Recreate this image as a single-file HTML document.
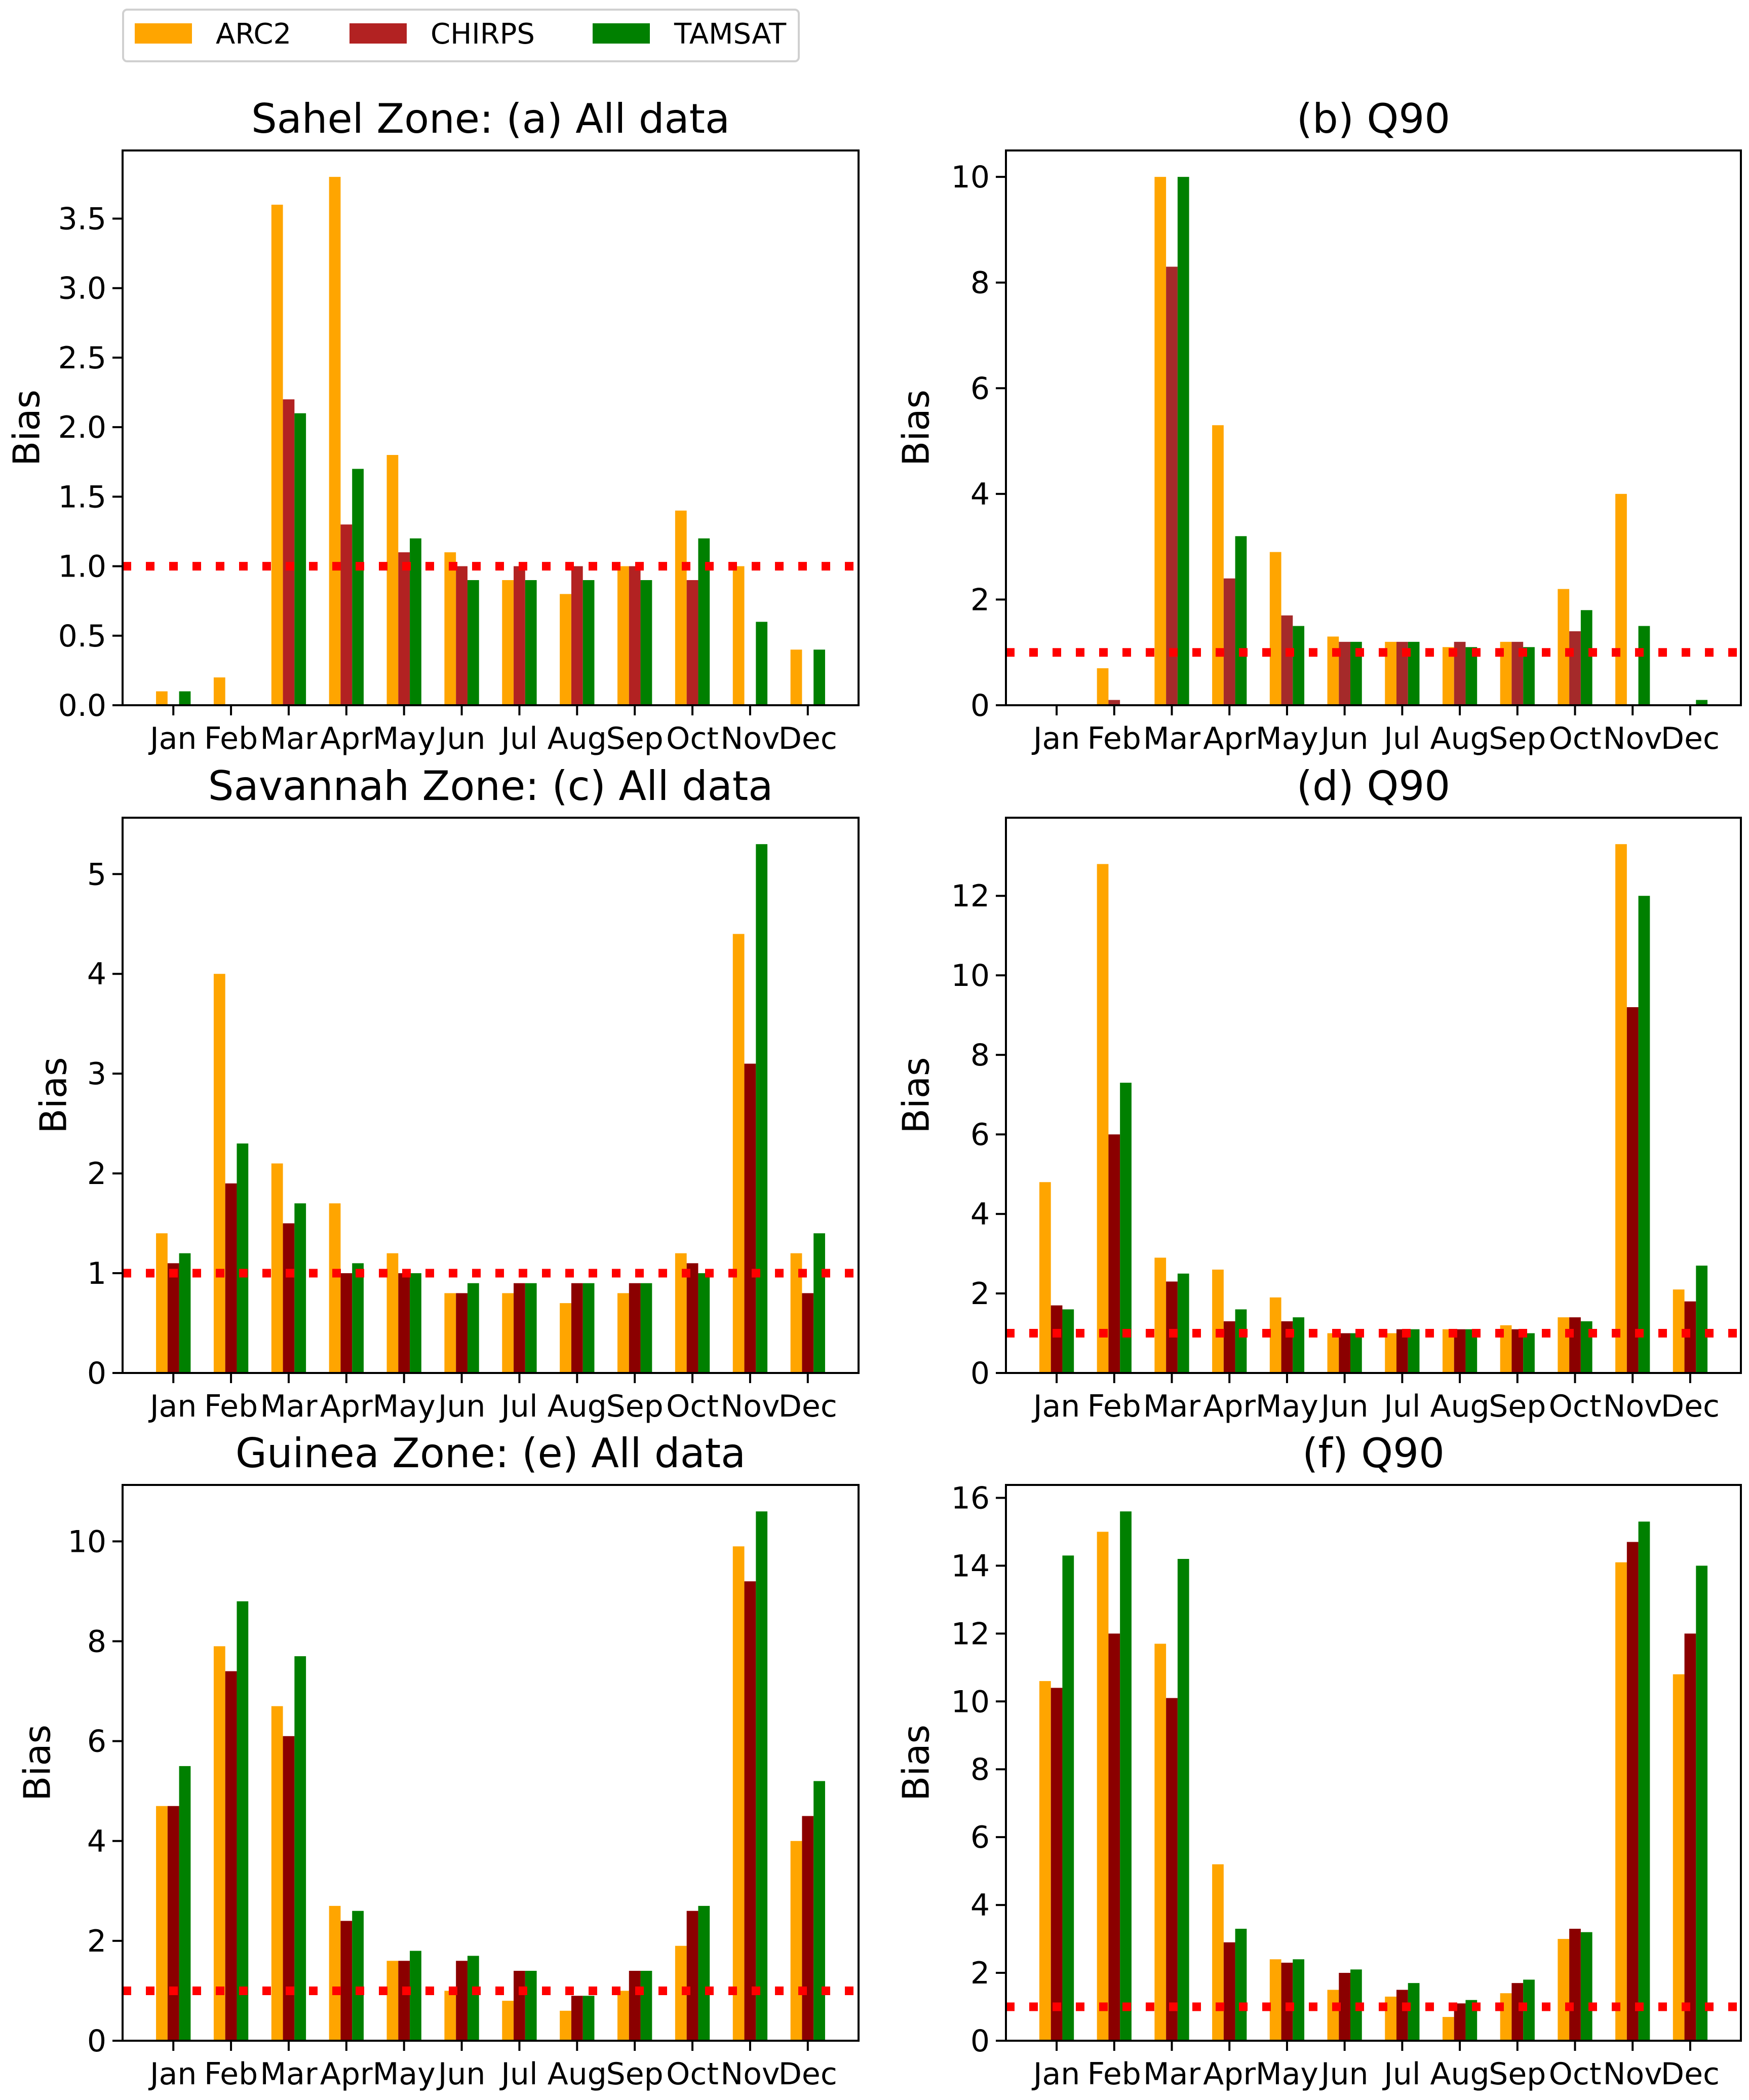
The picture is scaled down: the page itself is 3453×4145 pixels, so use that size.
<!DOCTYPE html>
<html><head><meta charset="utf-8"><style>
html,body{margin:0;padding:0;background:#fff}
svg{display:block;font-family:"DejaVu Sans","Liberation Sans",sans-serif}
</style></head><body>
<svg id="fig" width="3453" height="4145" viewBox="0 0 3453 4145" xmlns="http://www.w3.org/2000/svg">
<rect width="3453" height="4145" fill="#fff"/>
<g>
<rect x="243" y="19" width="1334" height="102" rx="8" fill="#fff" stroke="#d0d0d0" stroke-width="4"/>
<rect x="266" y="46" width="113" height="40" fill="orange"/>
<text x="426" y="86" font-size="56">ARC2</text>
<rect x="690" y="46" width="113" height="40" fill="firebrick"/>
<text x="850" y="86" font-size="56">CHIRPS</text>
<rect x="1170" y="46" width="113" height="40" fill="green"/>
<text x="1331" y="86" font-size="56">TAMSAT</text>
</g>
</svg>
<script>
const months=["Jan","Feb","Mar","Apr","May","Jun","Jul","Aug","Sep","Oct","Nov","Dec"];
const aArc2=[0.1,0.2,3.6,3.8,1.8,1.1,0.9,0.8,1.0,1.4,1.0,0.4];
const aChirps=[0,0,2.2,1.3,1.1,1.0,1.0,1.0,1.0,0.9,0,0];
const aTamsat=[0.1,0,2.1,1.7,1.2,0.9,0.9,0.9,0.9,1.2,0.6,0.4];
const bArc2=[0,0.7,10,5.3,2.9,1.3,1.2,1.1,1.2,2.2,4.0,0];
const bChirps=[0,0.1,8.3,2.4,1.7,1.2,1.2,1.2,1.2,1.4,0,0];
const bTamsat=[0,0,10,3.2,1.5,1.2,1.2,1.1,1.1,1.8,1.5,0.1];
const cArc2=[1.4,4.0,2.1,1.7,1.2,0.8,0.8,0.7,0.8,1.2,4.4,1.2];
const cChirps=[1.1,1.9,1.5,1.0,1.0,0.8,0.9,0.9,0.9,1.1,3.1,0.8];
const cTamsat=[1.2,2.3,1.7,1.1,1.0,0.9,0.9,0.9,0.9,1.0,5.3,1.4];
const dArc2=[4.8,12.8,2.9,2.6,1.9,1.0,1.0,1.1,1.2,1.4,13.3,2.1];
const dChirps=[1.7,6.0,2.3,1.3,1.3,1.0,1.1,1.1,1.1,1.4,9.2,1.8];
const dTamsat=[1.6,7.3,2.5,1.6,1.4,1.0,1.1,1.1,1.0,1.3,12.0,2.7];
const eArc2=[4.7,7.9,6.7,2.7,1.6,1.0,0.8,0.6,1.0,1.9,9.9,4.0];
const eChirps=[4.7,7.4,6.1,2.4,1.6,1.6,1.4,0.9,1.4,2.6,9.2,4.5];
const eTamsat=[5.5,8.8,7.7,2.6,1.8,1.7,1.4,0.9,1.4,2.7,10.6,5.2];
const fArc2=[10.6,15.0,11.7,5.2,2.4,1.5,1.3,0.7,1.4,3.0,14.1,10.8];
const fChirps=[10.4,12.0,10.1,2.9,2.3,2.0,1.5,1.1,1.7,3.3,14.7,12.0];
const fTamsat=[14.3,15.6,14.2,3.3,2.4,2.1,1.7,1.2,1.8,3.2,15.3,14.0];
const aTicks=["0.0","0.5","1.0","1.5","2.0","2.5","3.0","3.5"];
const bTicks=["0","2","4","6","8","10"];
const cTicks=["0","1","2","3","4","5"];
const dTicks=["0","2","4","6","8","10","12"];
const eTicks=["0","2","4","6","8","10"];
const fTicks=["0","2","4","6","8","10","12","14","16"];
const refLine=1;

const NS="http://www.w3.org/2000/svg";
const svg=document.getElementById('fig');
function mk(tag,attrs,parent){const e=document.createElementNS(NS,tag);for(const k in attrs)e.setAttribute(k,attrs[k]);(parent||svg).appendChild(e);return e;}

const panels=[
 {id:'a',title:'Sahel Zone: (a) All data',L:242,R:1695,T:297,B:1392,s:[aArc2,aChirps,aTamsat],ticks:aTicks,cc:'firebrick',bx:58},
 {id:'b',title:'(b) Q90',L:1986,R:3437,T:297,B:1392,s:[bArc2,bChirps,bTamsat],ticks:bTicks,cc:'#a52a2a',bx:1814},
 {id:'c',title:'Savannah Zone: (c) All data',L:242,R:1695,T:1614,B:2710,s:[cArc2,cChirps,cTamsat],ticks:cTicks,cc:'darkred',bx:111},
 {id:'d',title:'(d) Q90',L:1986,R:3437,T:1614,B:2710,s:[dArc2,dChirps,dTamsat],ticks:dTicks,cc:'darkred',bx:1814},
 {id:'e',title:'Guinea Zone: (e) All data',L:242,R:1695,T:2931,B:4028,s:[eArc2,eChirps,eTamsat],ticks:eTicks,cc:'darkred',bx:79},
 {id:'f',title:'(f) Q90',L:1986,R:3437,T:2931,B:4028,s:[fArc2,fChirps,fTamsat],ticks:fTicks,cc:'darkred',bx:1814}
];

panels.forEach(p=>{
  const g=mk('g',{});
  
  
  let mx=0;p.s.forEach(a=>a.forEach(v=>{if(v>mx)mx=v;}));
  const ymax=mx*1.05, xmin=-0.88, xmax=11.88;
  const X=v=>p.L+(v-xmin)/(xmax-xmin)*(p.R-p.L);
  const Y=v=>p.B-v/ymax*(p.B-p.T);
  const colors=['orange',p.cc,'green'];
  const names=['arc2','chirps','tamsat'];
  p.s.forEach((arr,si)=>{
    arr.forEach((v,i)=>{
      if(v<=0)return;
      const x0=X(i+(si-1)*0.2-0.1),x1=X(i+(si-1)*0.2+0.1);
      const r=mk('rect',{x:x0,y:Y(v),width:x1-x0,height:p.B-Y(v),fill:colors[si]},g);
      
      
    });
  });
  const ln=mk('line',{x1:p.L,x2:p.R,y1:Y(refLine),y2:Y(refLine),stroke:'red','stroke-width':17,'stroke-dasharray':'17 29'},g);
  
  
  const fr=mk('rect',{x:p.L,y:p.T,width:p.R-p.L,height:p.B-p.T,fill:'none',stroke:'#000','stroke-width':4},g);
  
  
  p.ticks.forEach(t=>{
    const y=Y(parseFloat(t));
    mk('line',{x1:p.L-20,x2:p.L,y1:y,y2:y,stroke:'#000','stroke-width':4},g);
    const tx=mk('text',{x:p.L-32,y:y+21,'font-size':60,'text-anchor':'end'},g);
    tx.textContent=t;
    
    
  });
  months.forEach((m,i)=>{
    const x=X(i);
    mk('line',{x1:x,x2:x,y1:p.B,y2:p.B+20,stroke:'#000','stroke-width':4},g);
    const tx=mk('text',{x:x,y:p.B+86,'font-size':60,'text-anchor':'middle'},g);
    tx.textContent=m;
    
    
  });
  const tt=mk('text',{x:(p.L+p.R)/2,y:p.T-35,'font-size':80,'text-anchor':'middle'},g);
  tt.textContent=p.title;
  
  
  const cy=(p.T+p.B)/2;
  const yl=mk('text',{x:p.bx,y:cy,'font-size':72,'text-anchor':'middle',transform:`rotate(-90 ${p.bx} ${cy})`,'dominant-baseline':'middle'},g);
  yl.textContent='Bias';
  
  
});
</script>
</body></html>
